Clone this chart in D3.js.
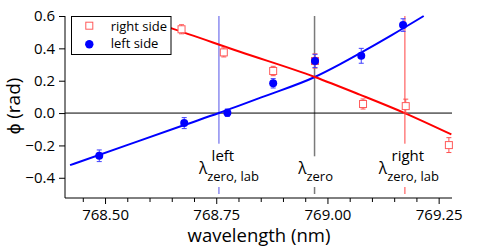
<!DOCTYPE html>
<html><head><meta charset="utf-8">
<script src="https://cdn.jsdelivr.net/npm/d3@7"></script>
<style>
html,body{margin:0;padding:0;background:#fff;}
svg{display:block;font-family:"Open Sans",sans-serif;}
</style></head>
<body><svg id="c" width="491" height="248"></svg>
<script>
// ---- data ----
const leftLambda  = [768.487, 768.678, 768.775, 768.878, 768.972, 769.076, 769.170];
const leftPhi     = [-0.264, -0.062, 0.002, 0.184, 0.322, 0.354, 0.544];
const leftErr     = [0.036, 0.034, 0.023, 0.029, 0.041, 0.046, 0.039];

const rightLambda = [768.672, 768.767, 768.878, 768.972, 769.080, 769.176, 769.273];
const rightPhi    = [0.518, 0.375, 0.260, 0.322, 0.056, 0.043, -0.198];
const rightErr    = [0.028, 0.028, 0.029, 0.044, 0.031, 0.043, 0.046];

const leftFitLambda  = [768.4214, 768.5494, 768.6781, 768.7560, 768.8593, 768.9716, 769.0277, 769.0726, 769.1445, 769.2164];
const leftFitPhi     = [-0.322, -0.198, -0.074, 0.000, 0.105, 0.223, 0.301, 0.369, 0.482, 0.600];
const rightFitLambda = [768.5786, 768.6482, 768.8032, 768.9716, 769.0726, 769.1737, 769.2786];
const rightFitPhi    = [0.587, 0.525, 0.379, 0.223, 0.114, 0.000, -0.132];

const markerLambda = [768.756, 768.971, 769.174];   // left λzero,lab ; λzero ; right λzero,lab
const yTicks = [-0.4, -0.2, 0.0, 0.2, 0.4, 0.6];
const xMajorTicks = [768.50, 768.75, 769.00, 769.25];
const xMinorTicks = [768.45, 768.55, 768.60, 768.65, 768.70, 768.80, 768.85, 768.90, 768.95, 769.05, 769.10, 769.15, 769.20];
const legendLabels = ["right side", "left side"];

// ---- layout ----
const svg = d3.select("#c");
const L = 65, R = 452, T = 16, B = 198;
const x = d3.scaleLinear().domain([768.41, 769.28]).range([L, R]);
const y = d3.scaleLinear().domain([-0.525, 0.6]).range([B, T]);

const BLUE = "#0000ff", RED = "#ff0000";

// vertical marker lines
const vColors = ["#8c8cf0", "#7a7a7a", "#ff8080"];
const vg = svg.append("g");
markerLambda.forEach((m, i) => {
  vg.append("line").attr("x1", x(m)).attr("x2", x(m)).attr("y1", T).attr("y2", 194)
    .attr("stroke", vColors[i]).attr("stroke-width", 1.5);
});

// zero line
svg.append("line").attr("x1", L).attr("x2", R).attr("y1", y(0)).attr("y2", y(0))
  .attr("stroke", "#000").attr("stroke-width", 1);

// fit lines
const lineGen = d3.line().x(d => x(d[0])).y(d => y(d[1])).curve(d3.curveMonotoneX);
svg.append("path").datum(leftFitLambda.map((l, i) => [l, leftFitPhi[i]]))
  .attr("d", lineGen).attr("fill", "none").attr("stroke", BLUE).attr("stroke-width", 2);
svg.append("path").datum(rightFitLambda.map((l, i) => [l, rightFitPhi[i]]))
  .attr("d", lineGen).attr("fill", "none").attr("stroke", RED).attr("stroke-width", 2);

// error bars
function errBars(lams, phis, errs, col) {
  const g = svg.append("g").attr("stroke", col).attr("stroke-width", 1);
  lams.forEach((l, i) => {
    const cx = x(l), y1 = y(phis[i] + errs[i]), y2 = y(phis[i] - errs[i]);
    g.append("line").attr("x1", cx).attr("x2", cx).attr("y1", y1).attr("y2", y2);
    g.append("line").attr("x1", cx - 2.5).attr("x2", cx + 2.5).attr("y1", y1).attr("y2", y1);
    g.append("line").attr("x1", cx - 2.5).attr("x2", cx + 2.5).attr("y1", y2).attr("y2", y2);
  });
}
errBars(rightLambda, rightPhi, rightErr, "#ff5050");
errBars(leftLambda, leftPhi, leftErr, "#4040ff");

// markers
svg.append("g").selectAll("rect").data(rightLambda).join("rect")
  .attr("x", (d) => x(d) - 3.5).attr("y", (d, i) => y(rightPhi[i]) - 3.5)
  .attr("width", 7).attr("height", 7).attr("fill", "#fff").attr("stroke", "#ff5a5a").attr("stroke-width", 1);
svg.append("g").selectAll("circle").data(leftLambda).join("circle")
  .attr("cx", d => x(d)).attr("cy", (d, i) => y(leftPhi[i])).attr("r", 4).attr("fill", BLUE);

// annotations
function annot(cx, top, sub, dxTop, dxLam) {
  const g = svg.append("g");
  const bg = g.append("rect").attr("fill", "#fff");
  const tg = g.append("g");
  if (top) {
    tg.append("text").attr("x", cx + dxTop).attr("y", 160.7).attr("text-anchor", "middle")
      .style("font-size", "15px").attr("fill", "#000").text(top);
  }
  const t = tg.append("text").attr("x", cx + dxLam).attr("y", 174.3).attr("text-anchor", "middle").attr("fill", "#000");
  t.append("tspan").style("font-size", "15.5px").text("λ");
  t.append("tspan").attr("dy", 7).style("font-size", "13px").text(sub);
  const bb = tg.node().getBBox();
  bg.attr("x", bb.x - 2).attr("y", bb.y - 1).attr("width", bb.width + 4).attr("height", 187 - (bb.y - 1));
}
annot(x(markerLambda[0]), "left", "zero, lab", 4, 10);
annot(x(markerLambda[1]), null, "zero", 0, 1);
annot(x(markerLambda[2]), "right", "zero, lab", 3, 4);

// axes
const ax = svg.append("g");
ax.append("line").attr("x1", L).attr("x2", L).attr("y1", T).attr("y2", B).attr("stroke", "#000");
ax.append("line").attr("x1", L).attr("x2", R).attr("y1", B).attr("y2", B).attr("stroke", "#000");

const xa = svg.append("g").attr("transform", `translate(0,${B})`)
  .call(d3.axisBottom(x).tickValues(xMajorTicks).tickFormat(d3.format(".2f")).tickSize(6).tickPadding(5));
xa.select(".domain").remove();
xa.selectAll("text").style("font-size", "15px").style("font-family", "'Open Sans',sans-serif").attr("fill", "#000");
const xm = svg.append("g").attr("transform", `translate(0,${B})`)
  .call(d3.axisBottom(x).tickValues(xMinorTicks).tickFormat("").tickSize(4));
xm.select(".domain").remove();

const ya = svg.append("g").attr("transform", `translate(${L},0)`)
  .call(d3.axisLeft(y).tickValues(yTicks).tickFormat(d3.format(".1f")).tickSize(6).tickPadding(4));
ya.select(".domain").remove();
ya.selectAll("text").style("font-size", "15px").style("font-family", "'Open Sans',sans-serif").attr("fill", "#000");

// axis labels
svg.append("text").attr("x", 259).attr("y", 242).attr("text-anchor", "middle")
  .style("font-size", "18.5px").attr("fill", "#000").text("wavelength (nm)");
svg.append("text").attr("transform", "translate(20,106) rotate(-90)").attr("text-anchor", "middle")
  .style("font-size", "19px").attr("fill", "#000").text("ϕ (rad)");

// legend
const lg = svg.append("g");
lg.append("rect").attr("x", 71.5).attr("y", 16.5).attr("width", 99.5).attr("height", 38)
  .attr("fill", "#fff").attr("stroke", "#000").attr("stroke-width", 1);
lg.append("rect").attr("x", 89.3 - 3.5).attr("y", 25.7 - 3.5).attr("width", 7).attr("height", 7)
  .attr("fill", "#fff").attr("stroke", "#ff5a5a");
lg.append("circle").attr("cx", 89.3).attr("cy", 44.3).attr("r", 4.2).attr("fill", BLUE);
lg.selectAll("text.l").data(legendLabels).join("text").attr("class", "l")
  .attr("x", 110.7).attr("y", (d, i) => 30.7 + i * 17).style("font-size", "13px").attr("fill", "#000").text(d => d);
</script></body></html>
